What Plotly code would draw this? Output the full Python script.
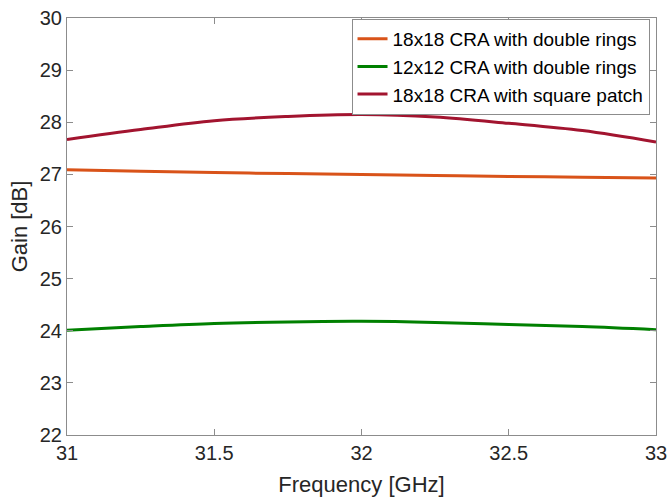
import plotly.graph_objects as go

freq = [31.0, 31.25, 31.5, 31.75, 32.0, 32.25, 32.5, 32.75, 33.0]
gain_18_rings = [27.09, 27.06, 27.035, 27.015, 27.0, 26.98, 26.96, 26.945, 26.93]
gain_12_rings = [24.01, 24.08, 24.14, 24.17, 24.18, 24.16, 24.12, 24.08, 24.02]
gain_18_patch = [27.67, 27.86, 28.03, 28.11, 28.147, 28.10, 27.98, 27.84, 27.62]

names = ["18x18 CRA with double rings", "12x12 CRA with double rings", "18x18 CRA with square patch"]
colors = ["#D95319", "#008000", "#A2142F"]

fig = go.Figure()
for y, n, c in zip([gain_18_rings, gain_12_rings, gain_18_patch], names, colors):
    fig.add_trace(go.Scatter(x=freq, y=y, name=n, mode="lines",
                             line=dict(color=c, width=3, shape="spline")))

axis_common = dict(showline=True, linecolor="#8c8c8c", linewidth=1, mirror="ticks",
                   ticks="inside", ticklen=6, tickcolor="#8c8c8c", showgrid=False,
                   zeroline=False, automargin=False, ticklabeloverflow="allow",
                   tickfont=dict(size=20, color="#262626"),
                   title_font=dict(size=22, color="#262626"))

fig.update_xaxes(range=[31, 33], tickvals=[31, 31.5, 32, 32.5, 33],
                 ticktext=["31", "31.5", "32", "32.5", "33"],
                 title_text="Frequency [GHz]", title_standoff=14, **axis_common)
fig.update_yaxes(range=[22, 30], dtick=1, title_text="Gain [dB]", title_standoff=6, **axis_common)

fig.update_layout(
    width=668, height=497,
    margin=dict(l=67, r=12, t=18, b=62),
    paper_bgcolor="white", plot_bgcolor="white",
    font=dict(family="Liberation Sans, Arial, sans-serif", color="#262626"),
    legend=dict(x=0.989, y=0.998, xanchor="right", yanchor="top",
                bgcolor="white", bordercolor="#8c8c8c", borderwidth=1,
                font=dict(size=19, color="#000000"), tracegroupgap=0,
                itemwidth=30),
)
fig.write_html("out.html", config={"displayModeBar": False},
               post_script="document.body.style.margin='0px';document.body.style.overflow='hidden';")
